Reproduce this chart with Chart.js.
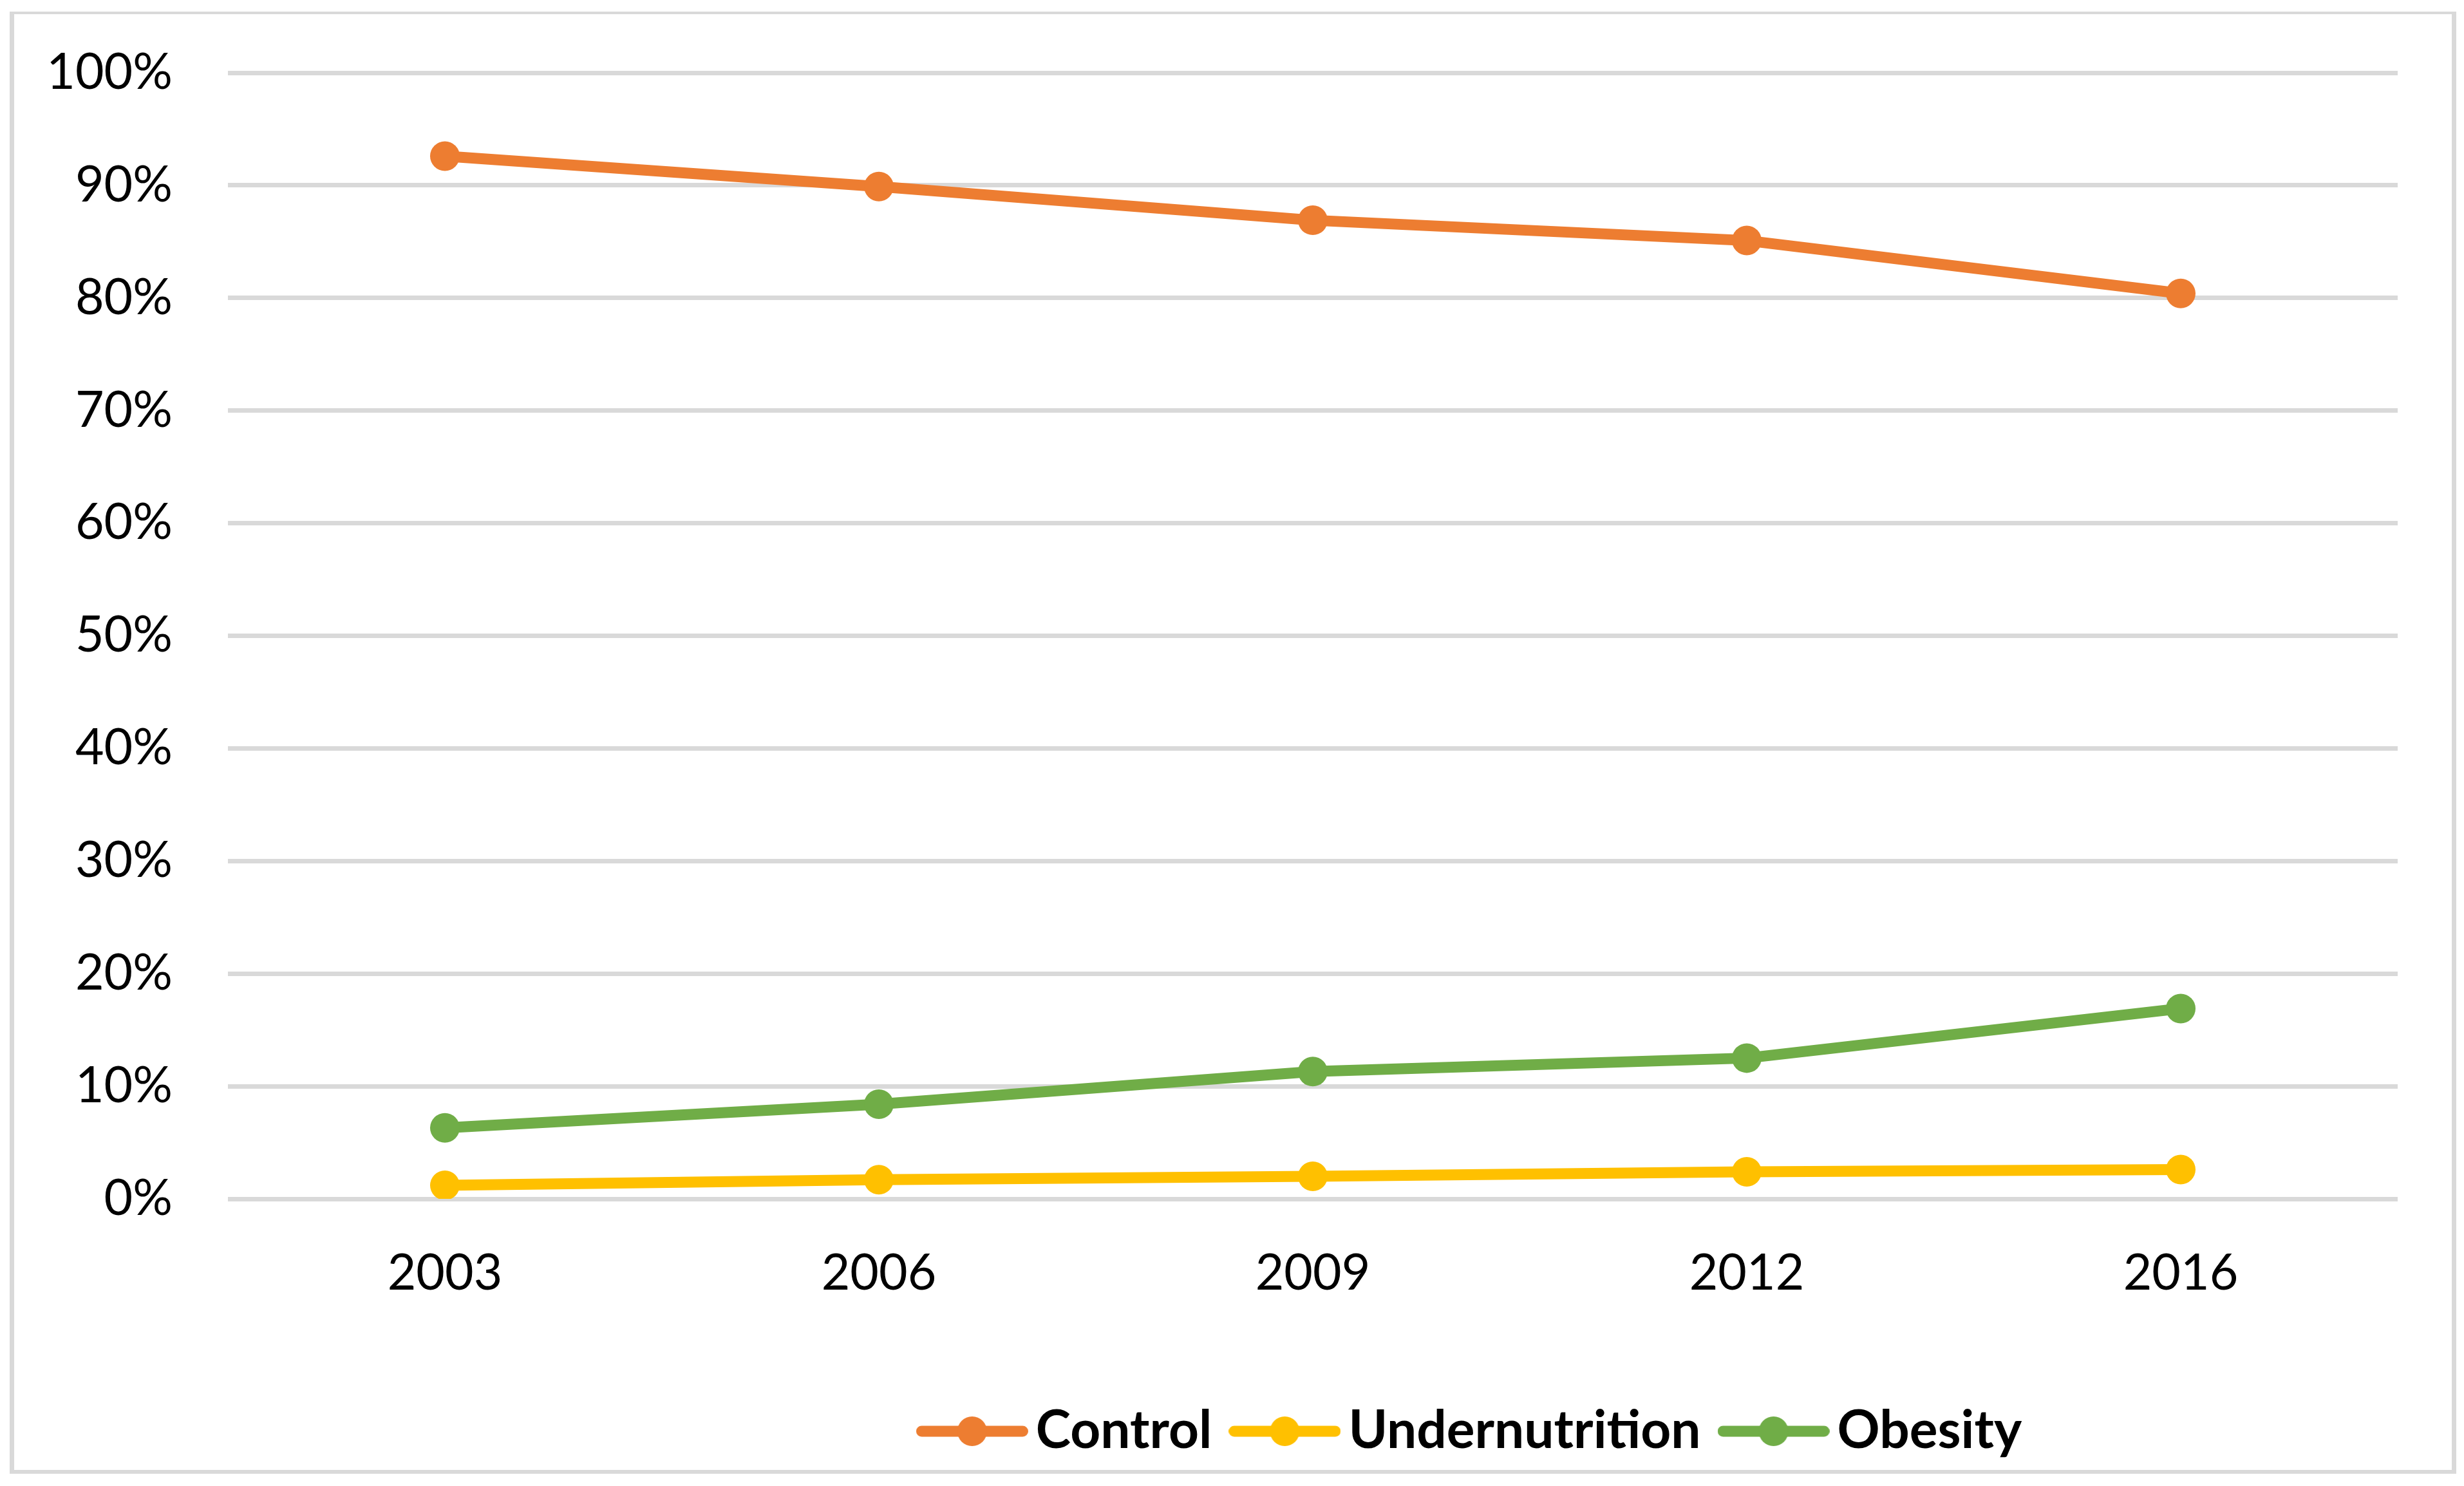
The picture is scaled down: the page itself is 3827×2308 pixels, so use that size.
<!DOCTYPE html>
<html>
<head>
<meta charset="utf-8">
<script src="https://cdn.jsdelivr.net/npm/chart.js@4.4.1/dist/chart.umd.min.js"></script>
<style>
  html, body { margin: 0; padding: 0; background: #fff; }
  body { width: 3827px; height: 2308px; position: relative; overflow: hidden; }
  .frame {
    position: absolute; left: 15px; top: 18px; width: 3800px; height: 2271px;
    box-sizing: border-box; border: solid #d9d9d9; border-width: 4px 7px 6px 7px;
  }
  .wrap { position: absolute; left: 0; top: 0; width: 3827px; height: 2308px; }
</style>
</head>
<body>
<div class="frame"></div>
<div class="wrap"><canvas id="chart"></canvas></div>
<script>
// data (percent)
const years = ['2003', '2006', '2009', '2012', '2016'];
const control = [92.6, 89.9, 86.9, 85.1, 80.4];
const undernutrition = [1.2, 1.7, 2.0, 2.4, 2.6];
const obesity = [6.3, 8.4, 11.3, 12.5, 16.9];
const seriesNames = ['Control', 'Undernutrition', 'Obesity'];
const seriesColors = ['#ED7D31', '#FFC000', '#70AD47'];
const yTicks = [0, 10, 20, 30, 40, 50, 60, 70, 80, 90, 100];

const FONT = 'Lato';
const FS = 77;
const LEGEND_FS = 82;
const LEGEND_CX = 2296;
const LEGEND_TOP = 2127;

Chart.defaults.font.family = FONT;
Chart.defaults.color = '#000';

// excel-style legend mark: line with a dot in the middle
function legendMark(color) {
  const c = document.createElement('canvas');
  c.width = 174; c.height = 48;
  const g = c.getContext('2d');
  g.strokeStyle = color;
  g.fillStyle = color;
  g.lineWidth = 17;
  g.lineCap = 'round';
  g.beginPath(); g.moveTo(8.5, 24); g.lineTo(165.5, 24); g.stroke();
  g.beginPath(); g.arc(87, 24, 23, 0, Math.PI * 2); g.fill();
  return c;
}
const marks = seriesColors.map(legendMark);

const legendShift = {
  id: 'legendShift',
  afterLayout(chart) {
    const lg = chart.legend;
    const dx = LEGEND_CX - (lg.left + lg.right) / 2;
    lg.left += dx; lg.right += dx;
    const dy = LEGEND_TOP - lg.top;
    lg.top += dy; lg.bottom += dy;
  }
};

function series(i, data) {
  return {
    label: seriesNames[i],
    data: data,
    borderColor: seriesColors[i],
    backgroundColor: seriesColors[i],
    borderWidth: 17,
    tension: 0,
    pointRadius: 23,
    pointBorderWidth: 0,
    pointBackgroundColor: seriesColors[i],
    pointStyle: 'circle'
  };
}

new Chart(document.getElementById('chart'), {
  type: 'line',
  data: {
    labels: years,
    datasets: [series(0, control), series(1, undernutrition), series(2, obesity)]
  },
  options: {
    responsive: true,
    maintainAspectRatio: false,
    devicePixelRatio: 1,
    animation: false,
    layout: { padding: { left: 0, top: 113, right: 103, bottom: 0 } },
    plugins: {
      tooltip: { enabled: false },
      legend: {
        position: 'bottom',
        labels: {
          usePointStyle: true,
          pointStyleWidth: 116,
          padding: 55,
          color: '#000',
          font: { family: FONT, size: LEGEND_FS, weight: 'bold' },
          generateLabels: chart => Chart.defaults.plugins.legend.labels.generateLabels(chart)
            .map((it, i) => ({ ...it, pointStyle: marks[i] }))
        }
      }
    },
    scales: {
      x: {
        offset: true,
        grid: { display: false, drawTicks: false },
        border: { display: false },
        ticks: { padding: 70, color: '#000', font: { family: FONT, size: FS } },
        afterFit: s => { s.height = 446 - s.chart.legend.height; }
      },
      y: {
        min: 0,
        max: 100,
        afterBuildTicks: s => { s.ticks = yTicks.map(v => ({ value: v })); },
        grid: { color: '#d9d9d9', lineWidth: 7, drawTicks: false },
        border: { display: false },
        ticks: { padding: 86, color: '#000', font: { family: FONT, size: FS }, callback: v => v + '%' },
        afterFit: s => { s.width = 354; s.paddingTop = 0; s.paddingBottom = 0; }
      }
    }
  },
  plugins: [legendShift]
});
</script>
</body>
</html>
